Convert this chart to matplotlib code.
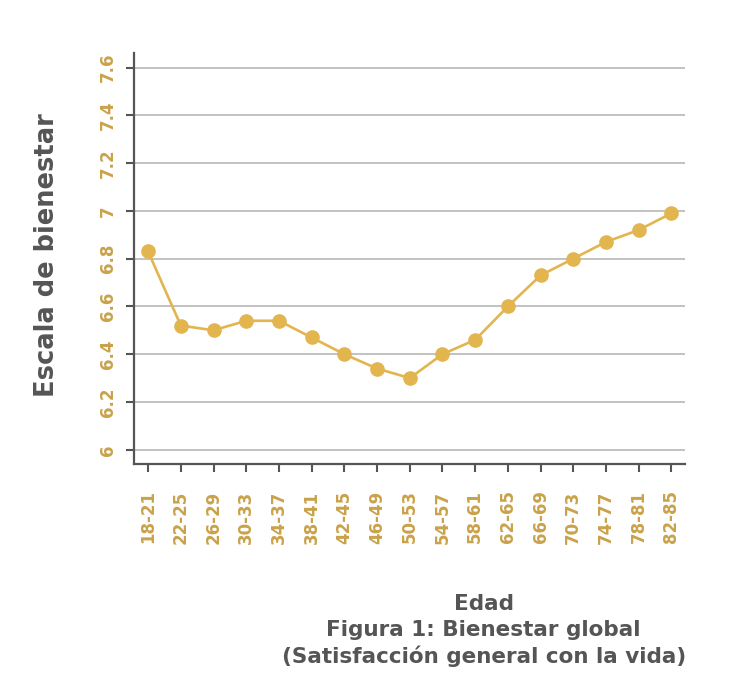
import matplotlib
matplotlib.use("Agg")
import matplotlib.pyplot as plt

plt.rcParams['font.family'] = ['DejaVu Sans']

# datos
edades = ["18-21", "22-25", "26-29", "30-33", "34-37", "38-41", "42-45", "46-49",
          "50-53", "54-57", "58-61", "62-65", "66-69", "70-73", "74-77", "78-81", "82-85"]
bienestar = [6.83, 6.52, 6.50, 6.54, 6.54, 6.47, 6.40, 6.34,
             6.30, 6.40, 6.46, 6.60, 6.73, 6.80, 6.87, 6.92, 6.99]
yticks = [6, 6.2, 6.4, 6.6, 6.8, 7, 7.2, 7.4, 7.6]
ylabels = ["6", "6.2", "6.4", "6.6", "6.8", "7", "7.2", "7.4", "7.6"]

oro = "#e2b54f"
oro_txt = "#c9a24a"
gris = "#555555"

fig = plt.figure(figsize=(7.5, 7.0), dpi=100)
ax = fig.add_axes([0.1787, 0.337, 0.734, 0.587])

x = range(len(edades))
ax.plot(x, bienestar, color=oro, linewidth=1.9, marker="o", markersize=9.5, zorder=3)

ax.set_xlim(-0.43, 16.4)
ax.set_ylim(5.94, 7.66)
ax.set_yticks(yticks)
ax.set_yticklabels(ylabels, rotation=90, va="center", color=oro_txt,
                   fontsize=12, fontweight="bold")
ax.set_xticks(list(x))
ax.set_xticklabels(edades, rotation=90, color=oro_txt, fontsize=12, fontweight="bold")

ax.grid(axis="y", color="#bdbdbd", linewidth=1.3)
ax.set_axisbelow(True)
for s in ["top", "right"]:
    ax.spines[s].set_visible(False)
for s in ["left", "bottom"]:
    ax.spines[s].set_color(gris)
    ax.spines[s].set_linewidth(1.6)
ax.tick_params(axis="x", length=6, width=1.5, color=gris, pad=13)
ax.tick_params(axis="y", length=6, width=1.5, color=gris, pad=6)

fig.text(0.063, 0.636, "Escala de bienestar", rotation=90, ha="center", va="center",
         fontsize=18.5, fontweight="bold", color=gris)
fig.text(0.645, 0.099, "Edad\nFigura 1: Bienestar global\n(Satisfacción general con la vida)",
         ha="center", va="center", fontsize=15.5, fontweight="bold", color=gris,
         linespacing=1.35)

fig.savefig("out.png", dpi=100, facecolor="white")
